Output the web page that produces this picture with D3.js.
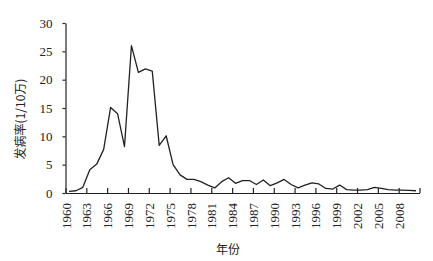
<!DOCTYPE html>
<html lang="zh">
<head>
    <meta charset="UTF-8">
    <title>发病率</title>
    <script src="https://d3js.org/d3.v7.min.js"></script>
    <style>
        body {
            margin: 0;
            background-color: #fff;
        }
        .tick text {
            font-family: "Liberation Serif", "DejaVu Serif", serif;
            font-size: 13px;
            fill: #222;
        }
        .title {
            font-family: "Noto Sans CJK SC", sans-serif;
            font-size: 12px;
            fill: #222;
        }
    </style>
</head>
<body>
    <svg id="chart" width="433" height="261"></svg>

    <script>
        // years 1960..2010, one value per year
        let years = d3.range(1960, 2011);
        let rates = [
            0.3, 0.4, 1.0, 4.1, 5.1, 7.7, 15.1, 14.0, 8.2, 26.0,
            21.3, 21.9, 21.5, 8.4, 10.1, 5.0, 3.2, 2.4, 2.4, 2.0,
            1.4, 0.9, 2.0, 2.7, 1.7, 2.2, 2.2, 1.5, 2.3, 1.3,
            1.8, 2.4, 1.5, 0.9, 1.4, 1.8, 1.6, 0.8, 0.7, 1.4,
            0.6, 0.5, 0.5, 0.6, 1.0, 0.8, 0.6, 0.5, 0.5, 0.45,
            0.4
        ];
        let xTicks = d3.range(1960, 2012, 3);   // 1960, 1963, ... 2011
        let yTicks = [0, 5, 10, 15, 20, 25, 30];

        let svg = d3.select("#chart");

        let x = d3.scaleLinear().domain([1960, 2011]).range([65.5, 419.5]);
        let y = d3.scaleLinear().domain([0, 30]).range([193, 23]);

        // x axis: ticks point up, labels rotated
        let xAxis = svg.append("g")
            .attr("transform", "translate(0,193)")
            .call(d3.axisBottom(x)
                .tickValues(xTicks)
                .tickSizeInner(-5)
                .tickSizeOuter(0)
                .tickFormat(d => d === 2011 ? "" : d));
        xAxis.selectAll(".tick text")
            .attr("transform", "rotate(-90)")
            .attr("text-anchor", "end")
            .attr("x", -10)
            .attr("y", 0)
            .attr("dy", "0.35em");

        // y axis
        let yAxis = svg.append("g")
            .attr("transform", "translate(65.5,0)")
            .call(d3.axisLeft(y)
                .tickValues(yTicks)
                .tickSizeInner(3)
                .tickSizeOuter(0)
                .tickPadding(10));

        svg.selectAll(".domain, .tick line")
            .attr("stroke", "#222")
            .attr("stroke-width", 1.2);

        // incidence line, points at the middle of each year
        let line = d3.line()
            .x((d, i) => x(years[i] + 0.5))
            .y(d => y(d));

        svg.append("path")
            .datum(rates)
            .attr("fill", "none")
            .attr("stroke", "#222")
            .attr("stroke-width", 1.3)
            .attr("stroke-linejoin", "round")
            .attr("d", line);

        // axis titles
        svg.append("text")
            .attr("class", "title")
            .attr("transform", "translate(25,119) rotate(-90)")
            .attr("text-anchor", "middle")
            .text("发病率(1/10万)");

        svg.append("text")
            .attr("class", "title")
            .attr("x", 228)
            .attr("y", 254)
            .attr("text-anchor", "middle")
            .text("年份");
    </script>
</body>
</html>
